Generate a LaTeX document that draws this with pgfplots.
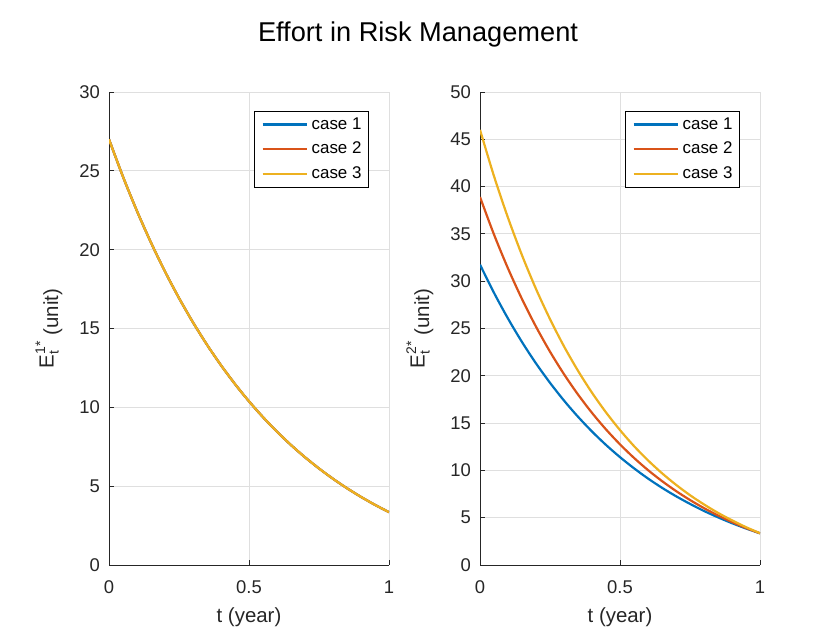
\documentclass[border=0pt]{standalone}
\usepackage{pgfplots}
\pgfplotsset{compat=1.18}
\usepackage{pgfplotstable}
\usepackage{fontspec}
\setmainfont{Liberation Sans}
\definecolor{c1}{rgb}{0,0.447,0.741}
\definecolor{c2}{rgb}{0.85,0.325,0.098}
\definecolor{c3}{rgb}{0.929,0.694,0.125}
\definecolor{axc}{RGB}{38,38,38}
\definecolor{gridc}{RGB}{223,223,223}
\newcommand\ssz[1]{\mbox{\fontsize{14}{14}\selectfont #1}}

\pgfplotstableread{
t E
0.00 27.000
0.05 24.625
0.10 22.446
0.15 20.447
0.20 18.613
0.25 16.930
0.30 15.386
0.35 13.969
0.40 12.668
0.45 11.475
0.50 10.381
0.55 9.376
0.60 8.455
0.65 7.609
0.70 6.833
0.75 6.121
0.80 5.468
0.85 4.869
0.90 4.319
0.95 3.814
1.00 3.351
}\leftdata

\pgfplotstableread{
t c1 c2 c3
0.00 31.75 38.90 46.00
0.05 28.77 34.93 41.10
0.10 26.05 31.35 36.70
0.15 23.57 28.11 32.74
0.20 21.31 25.19 29.18
0.25 19.26 22.55 25.99
0.30 17.38 20.17 23.11
0.35 15.67 18.02 20.53
0.40 14.11 16.08 18.21
0.45 12.69 14.33 16.13
0.50 11.40 12.75 14.26
0.55 10.22 11.32 12.57
0.60 9.14 10.03 11.06
0.65 8.16 8.87 9.70
0.70 7.27 7.82 8.48
0.75 6.46 6.87 7.38
0.80 5.71 6.01 6.40
0.85 5.04 5.24 5.51
0.90 4.42 4.54 4.72
0.95 3.86 3.91 4.00
1.00 3.35 3.35 3.36
}\rightdata

\pgfplotsset{
  mystyle/.style={
    scale only axis,
    width=280bp, height=473bp,
    xmin=0, xmax=1,
    xtick={0,0.5,1},
    axis x line*=bottom, axis y line*=left,
    axis line style={color=axc, line width=0.8bp},
    tick align=inside,
    major tick length=5bp,
    tick style={color=axc, line width=0.8bp},
    grid=major,
    major grid style={color=gridc, line width=0.8bp},
    /pgf/number format/assume math mode=true,
    ticklabel style={font=\fontsize{18.5}{21}\selectfont, color=axc},
    xticklabel style={anchor=base, inner sep=0pt, yshift=-29bp},
    yticklabel style={anchor=east, inner sep=0pt, xshift=-9bp},
    label style={font=\fontsize{20.5}{23}\selectfont, color=axc},
    xlabel style={at={(axis description cs:0.5,0)}, anchor=base, yshift=-58bp},
    ylabel style={at={(axis description cs:-0.1821,0.5)}, anchor=base},
    xlabel={t (year)},
    legend cell align=left,
    legend image code/.code={\draw[##1,line width=2.2bp] (0bp,0bp) -- (44bp,0bp);},
    legend style={at={(0.518,0.96)}, anchor=north west, draw=black, fill=white,
      line width=0.75bp,
      font=\fontsize{17}{20}\selectfont,
      inner xsep=7bp, inner ysep=4.8bp, row sep=7.7bp,
      nodes={inner sep=0pt, text height=13bp, text depth=4bp},
      /tikz/every odd column/.style={column sep=4bp}},
    every axis plot/.append style={line width=2.2bp, smooth},
  }
}

\begin{document}
\begin{tikzpicture}[x=1bp,y=1bp]
\path[use as bounding box] (0,0) rectangle (840,630);
\node[anchor=base, font=\fontsize{27.3}{30}\selectfont, text=black] at (418,588) {Effort in Risk Management};

\begin{axis}[mystyle, at={(109bp,65bp)}, anchor=south west,
  ymin=0, ymax=30, ytick={0,5,...,30},
  ylabel={\raisebox{4.5bp}{$\mbox{E}^{\ssz{1*}}_{\ssz{t}}$} (unit)}]
\addplot[c1] table[x=t, y=E] {\leftdata};
\addlegendentry{case 1}
\addplot[c2] table[x=t, y=E] {\leftdata};
\addlegendentry{case 2}
\addplot[c3] table[x=t, y=E] {\leftdata};
\addlegendentry{case 3}
\end{axis}

\begin{axis}[mystyle, at={(480bp,65bp)}, anchor=south west,
  ymin=0, ymax=50, ytick={0,5,...,50},
  ylabel={\raisebox{4.5bp}{$\mbox{E}^{\ssz{2*}}_{\ssz{t}}$} (unit)}]
\addplot[c1] table[x=t, y=c1] {\rightdata};
\addlegendentry{case 1}
\addplot[c2] table[x=t, y=c2] {\rightdata};
\addlegendentry{case 2}
\addplot[c3] table[x=t, y=c3] {\rightdata};
\addlegendentry{case 3}
\end{axis}
\end{tikzpicture}
\end{document}
